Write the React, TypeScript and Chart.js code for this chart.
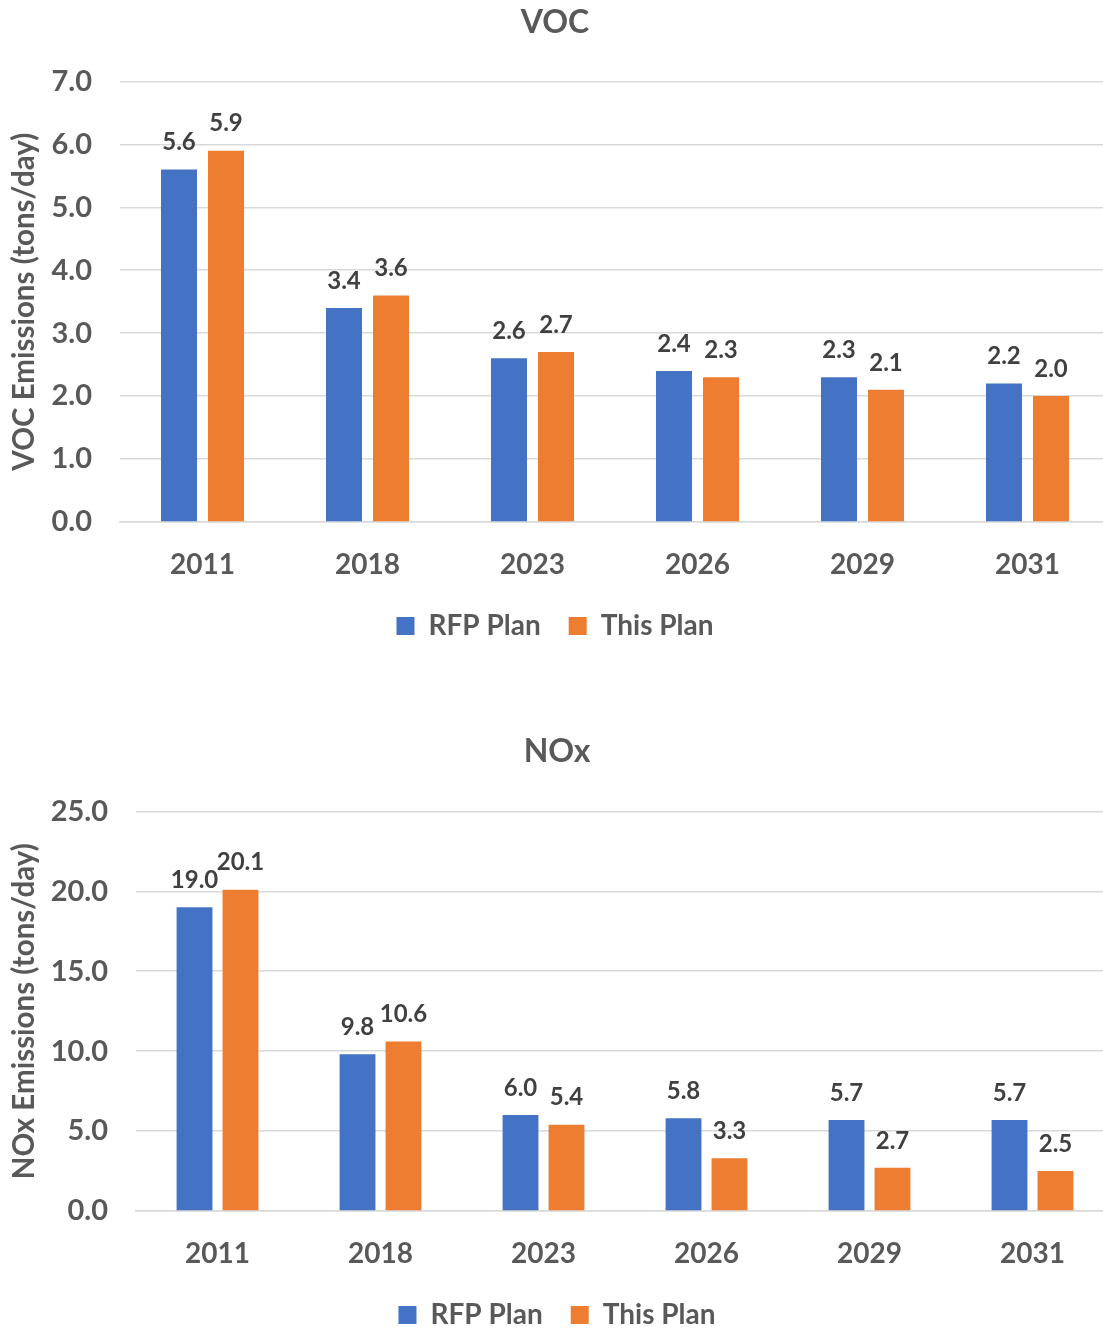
import React, { useEffect, useRef } from "react";
import { Chart, registerables } from "chart.js";

Chart.register(...registerables);

const years = ["2011", "2018", "2023", "2026", "2029", "2031"];
const seriesNames = ["RFP Plan", "This Plan"];
const vocRfp = [5.6, 3.4, 2.6, 2.4, 2.3, 2.2];
const vocThis = [5.9, 3.6, 2.7, 2.3, 2.1, 2.0];
const noxRfp = [19.0, 9.8, 6.0, 5.8, 5.7, 5.7];
const noxThis = [20.1, 10.6, 5.4, 3.3, 2.7, 2.5];

const BLUE = "#4472C4";
const ORANGE = "#ED7D31";
const TEXT = "#595959";
const LABEL = "#404040";
const GRID = "#d9d9d9";
const FONT = "Lato, 'Noto Sans', sans-serif";

// Value printed above each bar
const valueLabels = {
  id: "valueLabels",
  afterDatasetsDraw(chart: any) {
    const ctx = chart.ctx;
    ctx.save();
    ctx.font = `bold 24px ${FONT}`;
    ctx.fillStyle = LABEL;
    ctx.textAlign = "center";
    ctx.textBaseline = "middle";
    chart.data.datasets.forEach((ds: any, i: number) => {
      const meta = chart.getDatasetMeta(i);
      meta.data.forEach((bar: any, j: number) => {
        ctx.fillText(Number(ds.data[j]).toFixed(1), bar.x, bar.y - 27);
      });
    });
    ctx.restore();
  },
};

type Cfg = {
  title: string;
  axisTitle: string;
  rfp: number[];
  mine: number[];
  max: number;
  step: number;
  axisWidth: number;
  catPct: number;
  barPct: number;
  padRight: number;
  titleGap: number;
};

function BarPanel({ cfg, width, height }: { cfg: Cfg; width: number; height: number }) {
  const ref = useRef<HTMLCanvasElement>(null);
  useEffect(() => {
    if (!ref.current) return;
    const chart = new Chart(ref.current, {
      type: "bar",
      data: {
        labels: years,
        datasets: [
          { label: seriesNames[0], data: cfg.rfp, backgroundColor: BLUE, categoryPercentage: cfg.catPct, barPercentage: cfg.barPct },
          { label: seriesNames[1], data: cfg.mine, backgroundColor: ORANGE, categoryPercentage: cfg.catPct, barPercentage: cfg.barPct },
        ],
      },
      options: {
        responsive: false,
        animation: false,
        layout: { padding: { left: 0, right: cfg.padRight, top: 0, bottom: 0 } },
        plugins: {
          title: {
            display: true,
            text: cfg.title,
            color: TEXT,
            font: { family: FONT, size: 32, weight: "bold" },
            padding: { top: 3, bottom: cfg.titleGap },
          },
          legend: {
            position: "bottom",
            labels: {
              color: TEXT,
              font: { family: FONT, size: 28, weight: "bold" },
              boxWidth: 18,
              boxHeight: 18,
              padding: 28,
            },
          },
          tooltip: { enabled: false },
        },
        scales: {
          x: {
            afterFit: (s: any) => {
              s.height = 62;
            },
            grid: { display: false, drawTicks: false },
            border: { display: true, color: GRID, width: 1.5 },
            ticks: { color: TEXT, font: { family: FONT, size: 28, weight: "bold" }, padding: 26 },
          },
          y: {
            min: 0,
            max: cfg.max,
            afterFit: (s: any) => {
              s.width = cfg.axisWidth;
            },
            grid: { color: GRID, lineWidth: 1.5, drawTicks: false },
            border: { display: false },
            ticks: {
              stepSize: cfg.step,
              color: TEXT,
              padding: 28,
              font: { family: FONT, size: 29, weight: "bold" },
              callback: (v: any) => Number(v).toFixed(1),
            },
            title: {
              display: true,
              text: cfg.axisTitle,
              color: TEXT,
              font: { family: FONT, size: 29.5, weight: "bold" },
              padding: { top: 7, bottom: 0 },
            },
          },
        },
      },
      plugins: [valueLabels],
    });
    return () => chart.destroy();
  }, [cfg, width, height]);
  return <canvas ref={ref} width={width} height={height} style={{ display: "block" }} />;
}

const vocCfg: Cfg = {
  title: "VOC",
  axisTitle: "VOC Emissions (tons/day)",
  rfp: vocRfp,
  mine: vocThis,
  max: 7,
  step: 1,
  axisWidth: 120,
  catPct: 0.57,
  barPct: 0.766,
  padRight: 5,
  titleGap: 40,
};

const noxCfg: Cfg = {
  title: "NOx",
  axisTitle: "NOx Emissions (tons/day)",
  rfp: noxRfp,
  mine: noxThis,
  max: 25,
  step: 5,
  axisWidth: 136,
  catPct: 0.564,
  barPct: 0.78,
  padRight: 6,
  titleGap: 41,
};

export default function App() {
  return (
    <div style={{ position: "absolute", left: 0, top: 0, width: 1103, height: 1329, overflow: "hidden", background: "#fff" }}>
      <div style={{ position: "absolute", left: 0, top: 0 }}>
        <BarPanel cfg={vocCfg} width={1115} height={650} />
      </div>
      <div style={{ position: "absolute", left: 0, top: 729 }}>
        <BarPanel cfg={noxCfg} width={1120} height={610} />
      </div>
    </div>
  );
}
